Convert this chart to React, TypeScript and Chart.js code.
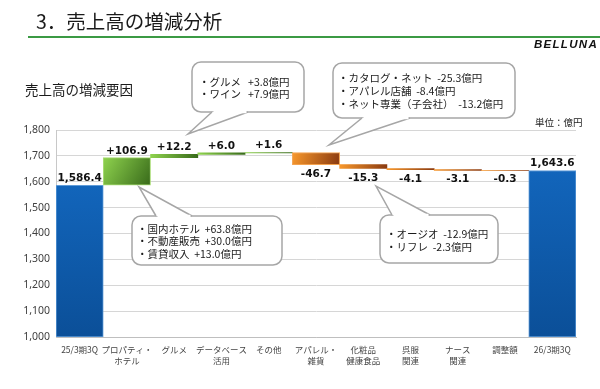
import { useEffect, useRef } from "react";
import { Chart, registerables } from "chart.js";

Chart.register(...registerables);

// ---- data ----
const categories: string[][] = [
  ["25/3期3Q"],
  ["プロパティ・", "ホテル"],
  ["グルメ"],
  ["データベース", "活用"],
  ["その他"],
  ["アパレル・", "雑貨"],
  ["化粧品", "健康食品"],
  ["呉服", "関連"],
  ["ナース", "関連"],
  ["調整額"],
  ["26/3期3Q"],
];
const startTotal = 1586.4;
const deltas = [106.9, 12.2, 6.0, 1.6, -46.7, -15.3, -4.1, -3.1, -0.3];
const endTotal = 1643.6;
const yMin = 1000;
const yMax = 1800;
const yStep = 100;

const titleText = "3．売上高の増減分析";
const brandText = "BELLUNA";
const subtitleText = "売上高の増減要因";
const unitText = "単位：億円";

const calloutGourmet = ["・グルメ   +3.8億円", "・ワイン   +7.9億円"];
const calloutApparel = ["・カタログ・ネット  -25.3億円", "・アパレル店舗  -8.4億円", "・ネット専業（子会社）  -13.2億円"];
const calloutProperty = ["・国内ホテル  +63.8億円", "・不動産販売  +30.0億円", "・賃貸収入  +13.0億円"];
const calloutKimono = ["・オージオ  -12.9億円", "・リフレ  -2.3億円"];

// ---- derived ----
const r1 = (v: number) => Math.round(v * 10) / 10;
const floating: number[][] = [];
const kinds: string[] = [];
const labelTexts: string[] = [];
floating.push([yMin, startTotal]);
kinds.push("total");
labelTexts.push(startTotal.toLocaleString("en-US", { minimumFractionDigits: 1 }));
let run = startTotal;
deltas.forEach((d) => {
  const next = r1(run + d);
  floating.push([Math.min(run, next), Math.max(run, next)]);
  kinds.push(d >= 0 ? "up" : "down");
  labelTexts.push((d >= 0 ? "+" : "") + d.toFixed(1));
  run = next;
});
floating.push([yMin, endTotal]);
kinds.push("total");
labelTexts.push(endTotal.toLocaleString("en-US", { minimumFractionDigits: 1 }));

const JP = '"Noto Sans CJK JP", "Noto Sans", sans-serif';

function drawCallout(
  ctx: CanvasRenderingContext2D,
  x: number, y: number, w: number, h: number,
  b1: number[], tip: number[], b2: number[],
  lines: string[], tx: number, ty: number, lh: number
) {
  const r = 9;
  ctx.save();
  ctx.beginPath();
  ctx.moveTo(x + r, y);
  ctx.arcTo(x + w, y, x + w, y + h, r);
  ctx.arcTo(x + w, y + h, x, y + h, r);
  ctx.arcTo(x, y + h, x, y, r);
  ctx.arcTo(x, y, x + w, y, r);
  ctx.closePath();
  ctx.fillStyle = "#ffffff";
  ctx.fill();
  ctx.strokeStyle = "#a6a6a6";
  ctx.lineWidth = 1.5;
  ctx.stroke();
  // tail
  ctx.beginPath();
  ctx.moveTo(b1[0], b1[1]);
  ctx.lineTo(tip[0], tip[1]);
  ctx.lineTo(b2[0], b2[1]);
  ctx.closePath();
  ctx.fill();
  ctx.beginPath();
  ctx.moveTo(b1[0], b1[1]);
  ctx.lineTo(tip[0], tip[1]);
  ctx.lineTo(b2[0], b2[1]);
  ctx.stroke();
  // erase base border
  ctx.beginPath();
  ctx.moveTo(b1[0] + (b2[0] > b1[0] ? 1.5 : -1.5), b1[1]);
  ctx.lineTo(b2[0] + (b2[0] > b1[0] ? -1.5 : 1.5), b2[1]);
  ctx.strokeStyle = "#ffffff";
  ctx.lineWidth = 2.5;
  ctx.stroke();
  // text
  ctx.fillStyle = "#1a1a1a";
  ctx.font = `10.5px ${JP}`;
  ctx.textAlign = "left";
  ctx.textBaseline = "middle";
  lines.forEach((t, i) => ctx.fillText(t, tx, ty + i * lh));
  ctx.restore();
}

const decorPlugin = {
  id: "decor",
  beforeDraw(chart: any) {
    const ctx = chart.ctx as CanvasRenderingContext2D;
    ctx.save();
    ctx.fillStyle = "#ffffff";
    ctx.fillRect(0, 0, chart.width, chart.height);
    // title
    ctx.fillStyle = "#1a1a1a";
    ctx.font = `19.5px ${JP}`;
    ctx.textBaseline = "middle";
    ctx.textAlign = "left";
    ctx.fillText(titleText, 36, 22);
    // green rule
    ctx.fillStyle = "#3b9a44";
    ctx.fillRect(28, 36, 572, 2);
    // brand
    ctx.fillStyle = "#111111";
    ctx.font = 'italic bold 11.5px "Liberation Sans", Arial, sans-serif';
    (ctx as any).letterSpacing = "1.3px";
    ctx.textAlign = "right";
    ctx.fillText(brandText, 598, 45);
    (ctx as any).letterSpacing = "0px";
    // subtitle
    ctx.textAlign = "left";
    ctx.fillStyle = "#1a1a1a";
    ctx.font = `13.5px ${JP}`;
    ctx.fillText(subtitleText, 25, 90);
    // unit
    ctx.font = `9.5px ${JP}`;
    ctx.fillText(unitText, 535, 122);
    ctx.restore();
  },
  afterDatasetsDraw(chart: any) {
    const ctx = chart.ctx as CanvasRenderingContext2D;
    const meta = chart.getDatasetMeta(0);
    ctx.save();
    ctx.font = 'bold 10.5px "DejaVu Sans", sans-serif';
    ctx.fillStyle = "#111111";
    ctx.textAlign = "center";
    ctx.textBaseline = "alphabetic";
    meta.data.forEach((bar: any, i: number) => {
      const p = bar.getProps(["x", "y", "base"], true);
      const top = Math.min(p.y, p.base);
      const bottom = Math.max(p.y, p.base);
      if (kinds[i] === "down") {
        ctx.fillText(labelTexts[i], p.x, bottom + 12);
      } else {
        ctx.fillText(labelTexts[i], p.x, top - 4);
      }
    });
    ctx.restore();
  },
  afterDraw(chart: any) {
    const ctx = chart.ctx as CanvasRenderingContext2D;
    drawCallout(ctx, 192, 62, 112, 50, [212, 112], [188, 134], [248, 112], calloutGourmet, 199, 82, 12);
    drawCallout(ctx, 333, 63, 182, 55, [362, 118], [329, 145], [410, 118], calloutApparel, 338, 78, 13);
    drawCallout(ctx, 132, 216, 150, 49, [156, 216], [139, 187], [192, 216], calloutProperty, 137, 229, 12.5);
    drawCallout(ctx, 380, 215, 118, 48, [392, 215], [376, 186], [430, 215], calloutKimono, 386, 234, 13);
  },
};

function barFill(ctx: any) {
  const chart = ctx.chart;
  const i = ctx.dataIndex;
  const kind = kinds[i];
  const fallback = kind === "total" ? "#0e5bb0" : kind === "up" ? "#6aa83a" : "#e07a20";
  const area = chart.chartArea;
  const xs = chart.scales?.x;
  const ys = chart.scales?.y;
  if (!area || !xs || !ys || i === undefined) return fallback;
  const cx = xs.getPixelForValue(i);
  const half = xs.width / categories.length / 2;
  const [lo, hi] = floating[i];
  const top = ys.getPixelForValue(hi);
  const bottom = ys.getPixelForValue(lo);
  const c = chart.ctx as CanvasRenderingContext2D;
  if (kind === "total") {
    const g = c.createLinearGradient(0, top, 0, bottom);
    g.addColorStop(0, "#1265bb");
    g.addColorStop(1, "#0b4f98");
    return g;
  }
  const g = c.createLinearGradient(cx - half, top, cx + half, bottom);
  if (kind === "up") {
    g.addColorStop(0, "#8fd34e");
    g.addColorStop(1, "#386a1a");
  } else {
    g.addColorStop(0, "#f8982c");
    g.addColorStop(1, "#8a3a10");
  }
  return g;
}

export default function App() {
  const ref = useRef<HTMLCanvasElement | null>(null);
  useEffect(() => {
    if (!ref.current) return;
    const chart = new Chart(ref.current, {
      type: "bar",
      data: {
        labels: categories,
        datasets: [
          {
            data: floating as any,
            backgroundColor: barFill as any,
            borderColor: ((c: any) =>
              kinds[c.dataIndex] === "total" ? "#5e9bd8" : kinds[c.dataIndex] === "up" ? "#a8dc74" : "#f4a24e") as any,
            borderWidth: ((c: any) => {
              const v = floating[c.dataIndex];
              return v && v[1] - v[0] > 30 ? 1 : 0;
            }) as any,
            borderSkipped: false,
            barPercentage: 1,
            categoryPercentage: 1,
          },
        ],
      },
      options: {
        responsive: false,
        devicePixelRatio: 1,
        animation: false,
        locale: "en-US",
        layout: { padding: { top: 130, right: 24, left: 0, bottom: 0 } },
        plugins: { legend: { display: false }, tooltip: { enabled: false } },
        scales: {
          x: {
            grid: { display: false, drawTicks: false },
            border: { display: true, color: "#bfbfbf" },
            ticks: {
              font: { family: JP, size: 8.5, lineHeight: 1.35 },
              color: "#444444",
              padding: 7,
              maxRotation: 0,
              autoSkip: false,
            },
            afterFit: (s: any) => {
              s.height = 52;
            },
          },
          y: {
            min: yMin,
            max: yMax,
            ticks: {
              stepSize: yStep,
              font: { family: '"Noto Sans", sans-serif', size: 10.5 },
              color: "#404040",
              padding: 6,
            },
            grid: { color: "#d6d6d6", drawTicks: false },
            border: { display: true, color: "#c8c8c8" },
            afterFit: (s: any) => {
              s.width = 56;
            },
          },
        },
      },
      plugins: [decorPlugin],
    });
    return () => chart.destroy();
  }, []);
  return (
    <div style={{ position: "absolute", left: 0, top: 0, width: 600, height: 389, background: "#fff" }}>
      <canvas ref={ref} width={600} height={389} />
    </div>
  );
}
